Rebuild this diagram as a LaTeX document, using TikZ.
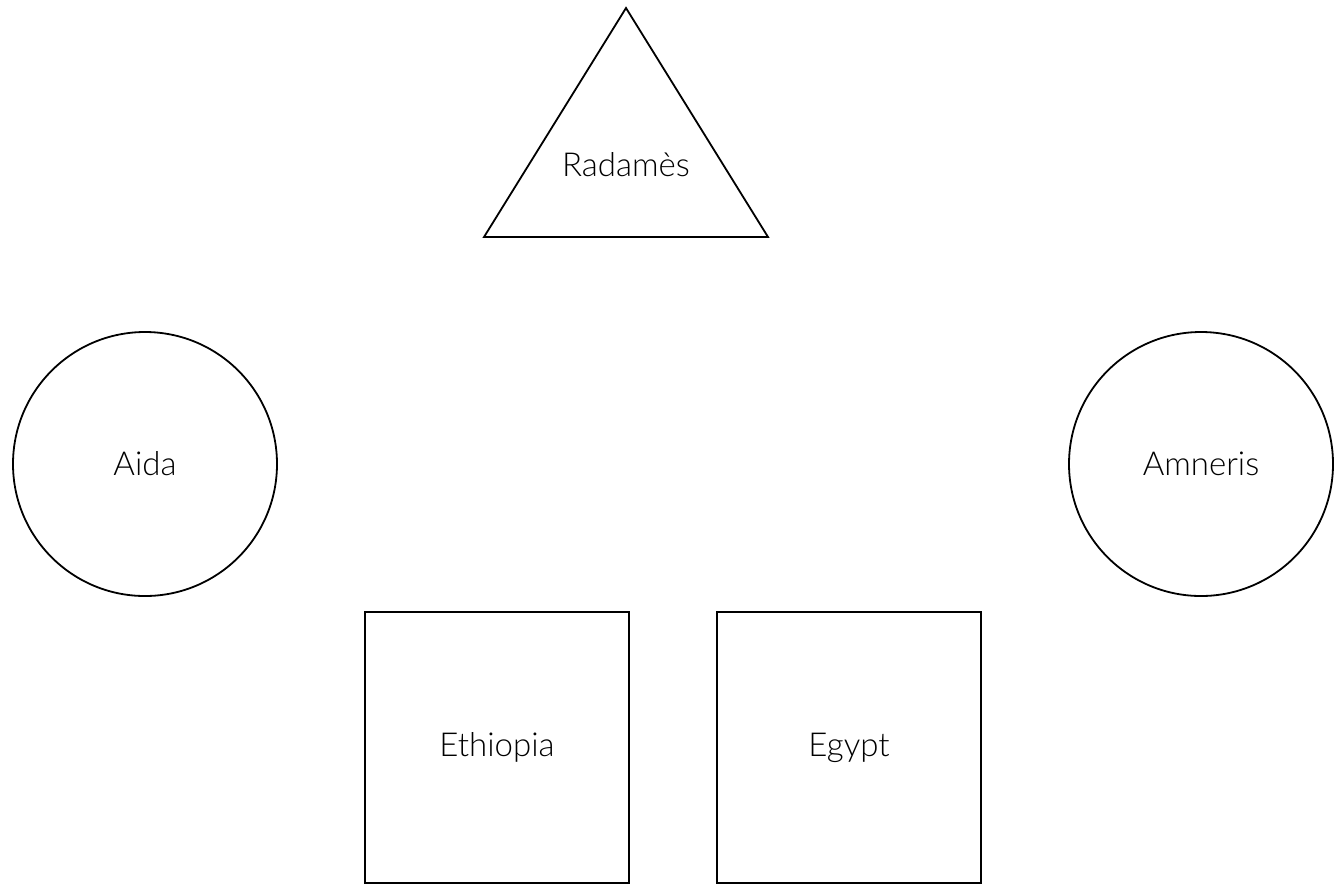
\documentclass[tikz,border=0pt]{standalone}
\usepackage{fontspec}
\setmainfont{Lato}[UprightFont=* Light]
\begin{document}
\begin{tikzpicture}[x=1pt,y=-1pt,
  every node/.style={font=\fontsize{33}{38}\selectfont},
  shp/.style={draw=black,line width=1.8pt,fill=white},
  person/.style={shp,circle,minimum size=264pt,inner sep=0pt},
  land/.style={shp,rectangle,minimum width=264pt,minimum height=271pt,inner sep=0pt}]
\useasboundingbox (0,0) rectangle (1337,884);
\coordinate (ta) at (626,8);
\coordinate (tl) at (484,237);
\coordinate (tr) at (768,237);
\draw[line width=1.8pt,line join=miter] (ta) -- (tl) -- (tr) -- cycle;
\node (radames) at (626,165) {Radamès};
\node[person] (aida) at (145,464) {Aida};
\node[person] (amneris) at (1201,464) {Amneris};
\node[land] (ethiopia) at (497,747.5) {Ethiopia};
\node[land] (egypt) at (849,747.5) {Egypt};
\end{tikzpicture}
\end{document}
